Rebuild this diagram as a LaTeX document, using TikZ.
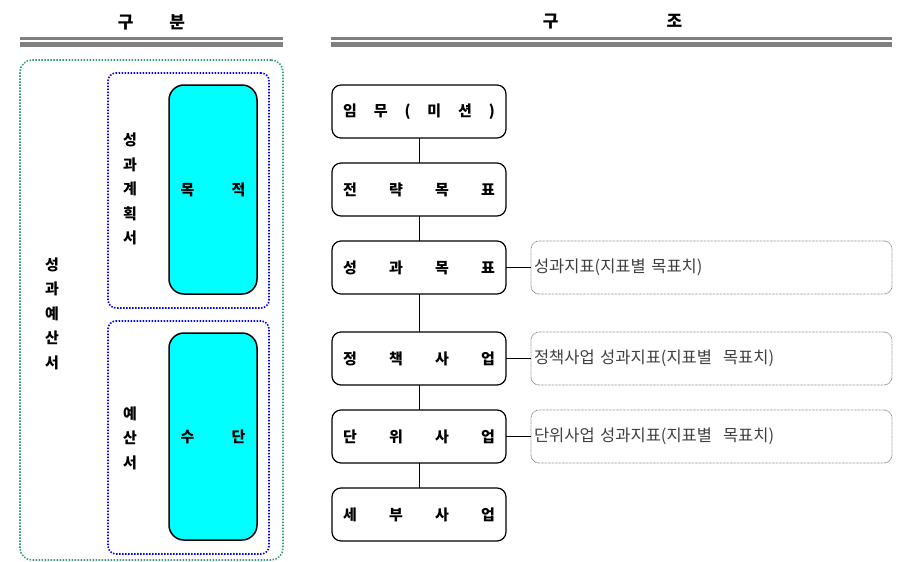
\documentclass[tikz,border=0pt]{standalone}
\usepackage{fontspec}
\setmainfont{Noto Sans CJK KR}
\usetikzlibrary{positioning}
\definecolor{dotgreen}{RGB}{50,160,110}
\definecolor{aqua}{RGB}{0,255,255}
\newcommand{\spreadtext}[2]{\makebox[#1][s]{#2}}

\begin{document}
\begin{tikzpicture}[x=1pt, y=-1pt,
     node distance = 25pt and 25pt,
      stage/.style = {rectangle, rounded corners=9pt, draw, line width=1.2pt,
                     minimum width=174pt, minimum height=53pt, inner sep=0pt,
                     outer sep=0pt, font=\bfseries\fontsize{15}{17}\selectfont},
      indic/.style = {rectangle, rounded corners=8pt, draw=black!45,
                     line width=0.8pt, dash pattern=on 0.8pt off 0.6pt,
                     minimum width=361pt, minimum height=53pt, text width=355pt,
                     align=left, inner sep=3pt, outer sep=0pt, text=black!75,
                     font=\fontsize{16.5}{19}\selectfont},
     dotbox/.style = {rectangle, rounded corners=#1, line width=1.6pt,
                     dash pattern=on 1.5pt off 1.5pt},
       core/.style = {rectangle, rounded corners=15pt, draw, line width=1.5pt,
                     fill=aqua, minimum width=88pt, inner sep=0pt,
                     font=\bfseries\fontsize{15}{17}\selectfont},
       vert/.style = {align=center, inner sep=0pt,
                     font=\bfseries\fontsize{15}{24.5}\selectfont},
    heading/.style = {font=\bfseries\fontsize{17}{20}\selectfont}
                        ]
\useasboundingbox (0,0) rectangle (900,562);
% headings
\node (divhead) [heading] at (151.5,22) {구\hspace{36pt}분};
\node (strhead) [heading] at (612.5,22) {구\hspace{108pt}조};
\draw[gray, line width=2.5pt] (20,38.5) -- (283,38.5);
\draw[gray, line width=4.4pt] (20,44.5) -- (283,44.5);
\draw[gray, line width=2.5pt] (331,38.5) -- (892,38.5);
\draw[gray, line width=4.4pt] (331,44.5) -- (892,44.5);
% left side
\node (whole) [dotbox=12pt, draw=dotgreen, minimum width=263pt, minimum height=500pt] at (151.5,310) {};
\node (plan) [dotbox=8pt, draw=blue, minimum width=161pt, minimum height=235pt] at (188.5,190.5) {};
\node (budg) [dotbox=8pt, draw=blue, minimum width=161pt, minimum height=233pt] at (188.5,437.5) {};
\node (goal) [core, minimum height=209pt] at (213,189.5) {\spreadtext{65pt}{목 적}};
\node (means) [core, minimum height=207pt] at (213,436.5) {\spreadtext{65pt}{수 단}};
\node (wholelbl) [vert] at (52,313.5) {성\\과\\예\\산\\서};
\node (planlbl) [vert] at (130,189) {성\\과\\계\\획\\서};
\node (budglbl) [vert] at (130,438) {예\\산\\서};
% right side
\node (mission) [stage] at (419,111.5) {\spreadtext{152pt}{임 무 ( 미 션 )}};
\node (strat) [stage, below=of mission] {\spreadtext{152pt}{전 략 목 표}};
\node (perf) [stage, below=of strat] {\spreadtext{152pt}{성 과 목 표}};
\node (policy) [stage, below=38pt of perf] {\spreadtext{152pt}{정 책 사 업}};
\node (unit) [stage, below=of policy] {\spreadtext{152pt}{단 위 사 업}};
\node (detail) [stage, below=of unit] {\spreadtext{152pt}{세 부 사 업}};
\node (perfind) [indic, right=of perf] {성과지표(지표별 목표치)};
\node (policyind) [indic, right=of policy] {정책사업 성과지표(지표별\ \ 목표치)};
\node (unitind) [indic, right=of unit] {단위사업 성과지표(지표별\ \ 목표치)};
\draw[line width=1pt] (mission) -- (strat);
\draw[line width=1pt] (strat) -- (perf);
\draw[line width=1pt] (perf) -- (policy);
\draw[line width=1pt] (policy) -- (unit);
\draw[line width=1pt] (unit) -- (detail);
\draw[line width=1pt] (perf) -- (perfind);
\draw[line width=1pt] (policy) -- (policyind);
\draw[line width=1pt] (unit) -- (unitind);
\end{tikzpicture}
\end{document}
